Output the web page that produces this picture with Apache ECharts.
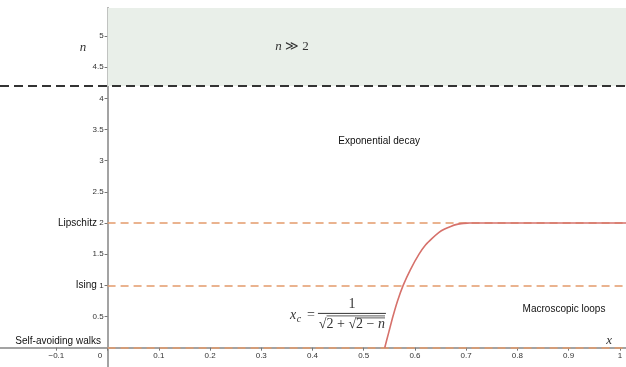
<!DOCTYPE html>
<html>
<head>
<meta charset="utf-8">
<script src="https://cdn.jsdelivr.net/npm/echarts@6/dist/echarts.min.js"></script>
<style>
  html, body { margin: 0; padding: 0; background: #fff; }
  #chart { width: 626px; height: 367px; }
</style>
</head>
<body>
<div id="chart"></div>
<script>
// tick values on both axes
const xTicks = [-0.1, 0, 0.1, 0.2, 0.3, 0.4, 0.5, 0.6, 0.7, 0.8, 0.9, 1]
const yTicks = [0.5, 1, 1.5, 2, 2.5, 3, 3.5, 4, 4.5, 5]
const yNames = { 1: 'Ising', 2: 'Lipschitz' }

// horizontal reference levels
const regimeLevels = [0, 1, 2]
const highNLevel = 4.2

// critical curve x_c(n), then flat at n = 2 out to the right edge
const curveN = [0, 0.25, 0.5, 0.75, 1, 1.25, 1.5, 1.65, 1.75, 1.85, 1.9, 1.95, 1.97, 1.99, 1.999, 2, 2]
const curveX = [0.541, 0.549, 0.557, 0.566, 0.577, 0.591, 0.608, 0.621, 0.633, 0.647, 0.657, 0.671, 0.678, 0.690, 0.702, 0.707, 1.012]

const W_PX = 626
const H_PX = 367
const TOP = 8
const X_MIN = -0.21
const X_MAX = 1.012
const Y_MIN = -0.31
const Y_MAX = 5.45

const sans = '"Liberation Sans", Arial, sans-serif'
const serif = '"Liberation Serif", "DejaVu Serif", serif'
const orange = '#e39a6b'
const red = '#d6716b'

// move the axes onto x = 0 / y = 0 (labels included)
const yAxisOffset = -(0 - X_MIN) / (X_MAX - X_MIN) * W_PX
const xAxisOffset = -(0 - Y_MIN) / (Y_MAX - Y_MIN) * (H_PX - TOP)

const chart = echarts.init(document.getElementById('chart'))

const fmtNum = (v) => (v < 0 ? '\u2212' + Math.abs(v) : String(v))

const option = {
  animation: false,
  grid: { left: 0, right: 0, top: TOP, bottom: 0, containLabel: false, outerBoundsMode: 'none' },
  xAxis: {
    type: 'value',
    min: X_MIN,
    max: X_MAX,
    offset: xAxisOffset,
    axisLine: { onZero: false, lineStyle: { color: '#a3a3a3', width: 2 } },
    axisTick: { show: true, length: 3, customValues: xTicks, lineStyle: { color: '#777' } },
    axisLabel: {
      customValues: xTicks,
      margin: 4,
      fontSize: 8,
      fontFamily: sans,
      color: '#333',
      formatter: (v) => (v === 0 ? '{o|0}' : fmtNum(v)),
      rich: { o: { padding: [0, 15, 0, 0], fontSize: 8, fontFamily: sans, color: '#333' } }
    },
    splitLine: { show: false }
  },
  yAxis: {
    type: 'value',
    min: Y_MIN,
    max: Y_MAX,
    offset: yAxisOffset,
    axisLine: { onZero: false, lineStyle: { color: '#a3a3a3', width: 2 } },
    axisTick: { show: true, length: 3, customValues: yTicks, lineStyle: { color: '#777' } },
    axisLabel: {
      customValues: yTicks,
      margin: 4,
      fontSize: 8,
      fontFamily: sans,
      color: '#333',
      formatter: (v) => (yNames[v] ? '{name|' + yNames[v] + '} ' + v : String(v)),
      rich: { name: { fontSize: 10, fontFamily: sans, color: '#111' } }
    },
    splitLine: { show: false }
  },
  series: [
    {
      type: 'line',
      data: curveX.map((x, i) => [x, curveN[i]]),
      smooth: 0.2,
      symbol: 'none',
      z: 5,
      lineStyle: { color: red, width: 1.6 },
      markArea: {
        silent: true,
        itemStyle: { color: '#e9efe9' },
        data: [[{ coord: [0, highNLevel] }, { coord: [X_MAX, Y_MAX] }]]
      },
      markLine: {
        silent: true,
        symbol: 'none',
        label: { show: false },
        data: [
          {
            yAxis: highNLevel,
            lineStyle: { color: '#333', width: 2, type: [9, 5] }
          },
          ...regimeLevels.map((v) => [
            { coord: [0, v], lineStyle: { color: orange, width: 1.6, type: [8, 5] } },
            { coord: [X_MAX, v] }
          ])
        ]
      }
    }
  ]
}

chart.setOption(option)

// annotations, anchored in data coordinates
const ctx = document.createElement('canvas').getContext('2d')
const measure = (text, font) => {
  ctx.font = font
  return ctx.measureText(text).width
}
const at = (x, y) => chart.convertToPixel({ gridIndex: 0 }, [x, y])
const ink = '#333'
const italic = { i: { font: 'italic 13px ' + serif, fill: ink } }
const label = (x, y, text, font, extra) => {
  const p = at(x, y)
  return {
    type: 'text',
    z: 100,
    x: p[0],
    y: p[1],
    style: Object.assign({ text, font, fill: '#111', align: 'center', verticalAlign: 'middle' }, extra)
  }
}

const graphics = [
  label(-0.048, 4.82, 'n', 'italic 13px ' + serif, { fill: ink }),
  label(0.36, 4.83, '{i|n} \u226B 2', '13px ' + serif, { fill: ink, rich: italic }),
  label(0.53, 3.32, 'Exponential decay', '10px ' + sans),
  label(0.891, 0.61, 'Macroscopic loops', '10px ' + sans),
  label(0.979, 0.11, 'x', 'italic 13px ' + serif, { fill: ink }),
  label(-0.013, 0.107, 'Self-avoiding walks', '10px ' + sans, { align: 'right' })
]

// formula x_c = 1 / sqrt(2 + sqrt(2 - n))
const a = at(0.477, 0.55)
const fFont = '14px ' + serif
const fiFont = 'italic 14px ' + serif
const denom = '\u221A2 + \u221A2 \u2212 n'
const W = measure(denom, fFont)
const startX = a[0] - W / 2
const outerX = startX + measure('\u221A', fFont)
const innerX = startX + measure('\u221A2 + \u221A', fFont)
graphics.push(
  { type: 'text', z: 100, x: a[0] - 62, y: a[1] + 2, style: { text: 'x', font: fiFont, fill: ink, verticalAlign: 'middle' } },
  { type: 'text', z: 100, x: a[0] - 62 + measure('x', fiFont) + 0.5, y: a[1] + 6, style: { text: 'c', font: 'italic 10px ' + serif, fill: ink, verticalAlign: 'middle' } },
  { type: 'text', z: 100, x: a[0] - 37, y: a[1] + 1.5, style: { text: '=', font: fFont, fill: ink, align: 'right', verticalAlign: 'middle' } },
  { type: 'text', z: 100, x: a[0], y: a[1] - 9, style: { text: '1', font: fFont, fill: ink, align: 'center', verticalAlign: 'middle' } },
  { type: 'line', z: 100, shape: { x1: a[0] - 34, y1: a[1], x2: a[0] + 34, y2: a[1] }, style: { stroke: ink, lineWidth: 1 } },
  {
    type: 'text', z: 100, x: a[0], y: a[1] + 11,
    style: {
      text: '\u221A2 + \u221A2 \u2212 {i|n}', font: fFont, fill: ink, align: 'center', verticalAlign: 'middle',
      rich: { i: { font: fiFont, fill: ink } }
    }
  },
  { type: 'line', z: 100, shape: { x1: outerX, y1: a[1] + 2.5, x2: startX + W, y2: a[1] + 2.5 }, style: { stroke: ink, lineWidth: 0.8 } },
  { type: 'line', z: 100, shape: { x1: innerX, y1: a[1] + 4.5, x2: startX + W, y2: a[1] + 4.5 }, style: { stroke: ink, lineWidth: 0.8 } }
)

chart.setOption({ graphic: graphics })
</script>
</body>
</html>
